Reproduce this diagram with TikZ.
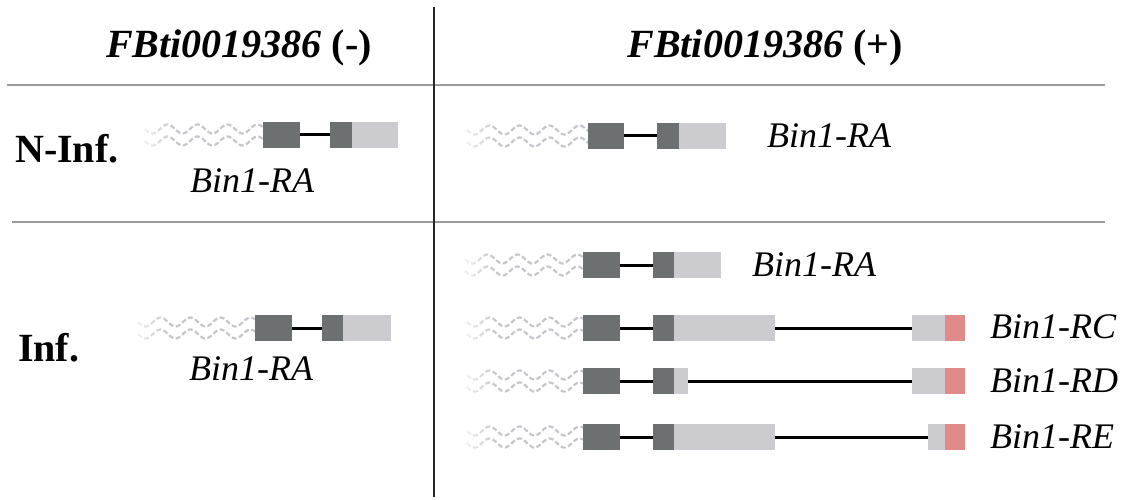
\documentclass[tikz,border=0pt]{standalone}
\usepackage{fontspec}
\setmainfont{Liberation Serif}
\usetikzlibrary{fadings}
\begin{document}
\begin{tikzpicture}[x=1pt,y=-1pt,
  exonbase/.style={draw=none, inner sep=0pt, outer sep=0pt, minimum height=26pt, anchor=west},
  coding/.style={exonbase, fill=codegray},
  utrbox/.style={exonbase, fill=utrgray},
  tebox/.style={exonbase, fill=tered},
  intron/.style={draw=black, line width=3pt},
  wave/.style={draw=wavegray, line width=2.2pt, dash pattern=on 5pt off 2.5pt},
  rule/.style={draw=rulegray, line width=2pt},
  divider/.style={draw=black!85, line width=2pt},
  head/.style={inner sep=0pt, font=\fontsize{40}{42}\selectfont\bfseries},
  cond/.style={inner sep=0pt, anchor=west, font=\fontsize{40}{42}\selectfont\bfseries},
  tname/.style={inner sep=0pt, font=\fontsize{36}{38}\selectfont\itshape},
]
\definecolor{codegray}{HTML}{6D7070}
\definecolor{utrgray}{HTML}{CBCBD0}
\definecolor{tered}{HTML}{E08A8A}
\definecolor{wavegray}{HTML}{C6C6CC}
\definecolor{rulegray}{HTML}{9A9A9A}

\useasboundingbox (0,0) rectangle (1125,500);

% exon box from x1 to x2 centred on row y
\newcommand\exonbox[5]{\node[#1, minimum width={(#4-#3)*1pt}] (#2) at (#3,#5) {};}
% upstream wavy region from x1 to x2 on row y, fading in from the left
\newcommand\waveutr[3]{%
  \begin{scope}
  \draw[wave] plot[domain=#1:#2, samples=80, smooth] (\x, {#3-6+4.5*sin((\x-#1)*12)});
  \draw[wave] plot[domain=#1:#2, samples=80, smooth] (\x, {#3+6+4.5*sin((\x-#1)*12)});
  \fill[white, path fading=east, fill opacity=0.8] (#1-2,#3-14) rectangle ({#1+30},#3+14);
  \end{scope}}

% table rules
\draw[rule] (7,85) -- (1105,85);
\draw[rule] (12,222) -- (1105,222);
\draw[divider] (434,7) -- (434,497);

% headers
\node[head] (hminus) at (239,48) {\textit{FBti0019386} (-)};
\node[head] (hplus) at (765,48) {\textit{FBti0019386} (+)};
\node[cond] (ninf) at (15,149) {N-Inf.};
\node[cond] (inf) at (18,348) {Inf.};

% N-Inf., TE absent
\waveutr{145}{263}{135}
\exonbox{coding}{a1}{263}{300}{135}
\exonbox{coding}{a2}{330}{352}{135}
\exonbox{utrbox}{a3}{352}{398}{135}
\draw[intron] (a1.east) -- (a2.west);
\node[tname] (la) at (252,181) {Bin1-RA};

% N-Inf., TE present
\waveutr{467}{588}{136}
\exonbox{coding}{b1}{588}{624}{136}
\exonbox{coding}{b2}{657}{679}{136}
\exonbox{utrbox}{b3}{679}{726}{136}
\draw[intron] (b1.east) -- (b2.west);
\node[tname, anchor=west] (lb) at (767,136) {Bin1-RA};

% Inf., TE absent
\waveutr{138}{255}{328}
\exonbox{coding}{c1}{255}{292}{328}
\exonbox{coding}{c2}{322}{343}{328}
\exonbox{utrbox}{c3}{343}{391}{328}
\draw[intron] (c1.east) -- (c2.west);
\node[tname] (lc) at (251,369) {Bin1-RA};

% Inf., TE present: RA
\waveutr{465}{583}{265}
\exonbox{coding}{d1}{583}{620}{265}
\exonbox{coding}{d2}{653}{674}{265}
\exonbox{utrbox}{d3}{674}{721}{265}
\draw[intron] (d1.east) -- (d2.west);
\node[tname, anchor=west] (ld) at (752,265) {Bin1-RA};

% RC
\waveutr{467}{583}{328}
\exonbox{coding}{e1}{583}{620}{328}
\exonbox{coding}{e2}{653}{674}{328}
\exonbox{utrbox}{e3}{674}{775}{328}
\exonbox{utrbox}{e4}{912}{945}{328}
\exonbox{tebox}{e5}{945}{965}{328}
\draw[intron] (e1.east) -- (e2.west);
\draw[intron] (e3.east) -- (e4.west);
\node[tname, anchor=west] (le) at (990,327) {Bin1-RC};

% RD
\waveutr{467}{583}{381}
\exonbox{coding}{f1}{583}{620}{381}
\exonbox{coding}{f2}{653}{674}{381}
\exonbox{utrbox}{f3}{674}{688}{381}
\exonbox{utrbox}{f4}{912}{945}{381}
\exonbox{tebox}{f5}{945}{965}{381}
\draw[intron] (f1.east) -- (f2.west);
\draw[intron] (f3.east) -- (f4.west);
\node[tname, anchor=west] (lf) at (990,381) {Bin1-RD};

% RE
\waveutr{467}{583}{437}
\exonbox{coding}{g1}{583}{620}{437}
\exonbox{coding}{g2}{653}{674}{437}
\exonbox{utrbox}{g3}{674}{775}{437}
\exonbox{utrbox}{g4}{928}{945}{437}
\exonbox{tebox}{g5}{945}{965}{437}
\draw[intron] (g1.east) -- (g2.west);
\draw[intron] (g3.east) -- (g4.west);
\node[tname, anchor=west] (lg) at (990,437) {Bin1-RE};
\end{tikzpicture}
\end{document}
